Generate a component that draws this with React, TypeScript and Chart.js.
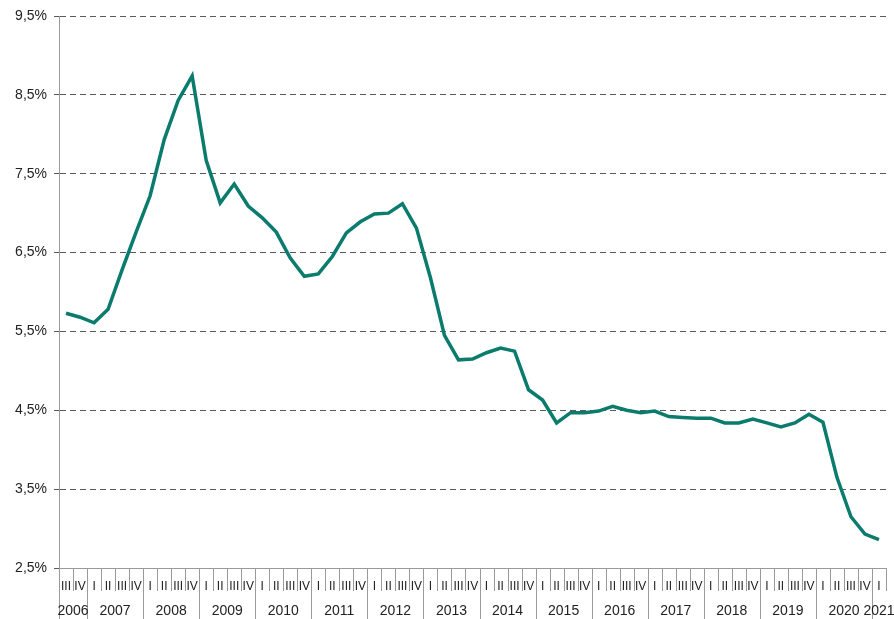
import React, { useEffect, useRef } from "react";
import { Chart, registerables } from "chart.js";

Chart.register(...registerables);

const years = ["2006","2007","2008","2009","2010","2011","2012","2013","2014","2015","2016","2017","2018","2019","2020","2021"];
const quartersPerYear = [2,4,4,4,4,4,4,4,4,4,4,4,4,4,4,1];
const firstQuarterOfYear = [3,1,1,1,1,1,1,1,1,1,1,1,1,1,1,1];
const romanQuarters = ["I","II","III","IV"];

const rates = [
  5.73,5.68,5.61,5.78,6.28,6.76,7.22,7.93,8.43,8.74,
  7.67,7.13,7.37,7.09,6.94,6.76,6.43,6.20,6.23,6.45,
  6.75,6.89,6.99,7.00,7.12,6.81,6.18,5.45,5.14,5.15,
  5.23,5.29,5.25,4.76,4.63,4.34,4.47,4.47,4.49,4.55,
  4.50,4.47,4.49,4.42,4.41,4.40,4.40,4.34,4.34,4.39,
  4.34,4.29,4.34,4.45,4.35,3.65,3.15,2.93,2.86
];

const yMin = 2.5;
const yMax = 9.5;
const yStep = 1;

const quarterLabels: string[] = [];
const yearOfIndex: number[] = [];
years.forEach((y, yi) => {
  for (let q = 0; q < quartersPerYear[yi]; q++) {
    quarterLabels.push(romanQuarters[firstQuarterOfYear[yi] - 1 + q]);
    yearOfIndex.push(yi);
  }
});

const FONT = "Arial, 'Liberation Sans', sans-serif";

const yearPlugin = {
  id: "yearPlugin",
  afterDraw(chart: any) {
    const x = chart.scales.x;
    const ctx = chart.ctx;
    const area = chart.chartArea;
    const bottom = area.bottom;
    const n = quarterLabels.length;
    const half = (x.getPixelForValue(1) - x.getPixelForValue(0)) / 2;
    ctx.save();
    ctx.strokeStyle = "#9a9a9a";
    ctx.lineWidth = 1;
    ctx.setLineDash([]);
    const ax = Math.round(area.left) + 0.5;
    ctx.beginPath();
    ctx.moveTo(ax, area.top);
    ctx.lineTo(ax, bottom);
    ctx.stroke();
    for (let i = 0; i <= n; i++) {
      const px = Math.round(i < n ? x.getPixelForValue(i) - half : x.getPixelForValue(n - 1) + half) + 0.5;
      const isYear = i === 0 || (i < n && yearOfIndex[i] !== yearOfIndex[i - 1]);
      ctx.beginPath();
      ctx.moveTo(px, bottom);
      ctx.lineTo(px, bottom + (isYear ? 51 : 23));
      ctx.stroke();
    }
    ctx.fillStyle = "#222";
    ctx.font = `14px ${FONT}`;
    ctx.textAlign = "center";
    ctx.textBaseline = "middle";
    let start = 0;
    years.forEach((y, yi) => {
      const end = start + quartersPerYear[yi] - 1;
      const cx = (x.getPixelForValue(start) + x.getPixelForValue(end)) / 2;
      ctx.fillText(y, cx, bottom + 43);
      start = end + 1;
    });
    ctx.restore();
  },
};

export default function App() {
  const ref = useRef<HTMLCanvasElement>(null);
  useEffect(() => {
    if (!ref.current) return;
    const chart = new Chart(ref.current, {
      type: "line",
      data: {
        labels: quarterLabels,
        datasets: [
          {
            data: rates,
            borderColor: "#0a7b6d",
            borderWidth: 3.5,
            pointRadius: 0,
            tension: 0,
            fill: false,
          },
        ],
      },
      options: {
        animation: false,
        responsive: false,
        devicePixelRatio: 1,
        layout: { padding: { top: 16, right: 8, left: 0, bottom: 0 } },
        plugins: { legend: { display: false }, tooltip: { enabled: false } },
        scales: {
          x: {
            type: "category",
            offset: true,
            grid: { display: false, drawTicks: false, offset: true },
            border: { display: true, color: "#9a9a9a", width: 1 },
            ticks: {
              autoSkip: false,
              maxRotation: 0,
              minRotation: 0,
              padding: 11,
              color: "#222",
              font: { family: FONT, size: 12 },
            },
            afterFit(scale: any) {
              scale.height = 51;
            },
          },
          y: {
            min: yMin,
            max: yMax,
            ticks: {
              stepSize: yStep,
              padding: 7,
              color: "#222",
              font: { family: FONT, size: 14 },
              callback: (v: any) => Number(v).toFixed(1).replace(".", ",") + "%",
            },
            grid: {
              color: "#5a5a5a",
              lineWidth: 1,
              drawTicks: true,
              tickLength: 5,
              tickColor: "#5a5a5a",
              tickBorderDash: [6, 4],
            },
            border: { display: true, color: "#9a9a9a", width: 1, dash: [6, 4] },
            afterFit(scale: any) {
              scale.width = 59;
            },
          },
        },
      },
      plugins: [yearPlugin],
    });
    return () => chart.destroy();
  }, []);
  return (
    <canvas
      ref={ref}
      width={894}
      height={619}
      style={{ position: "absolute", left: 0, top: 0, width: 894, height: 619, display: "block" }}
    />
  );
}
